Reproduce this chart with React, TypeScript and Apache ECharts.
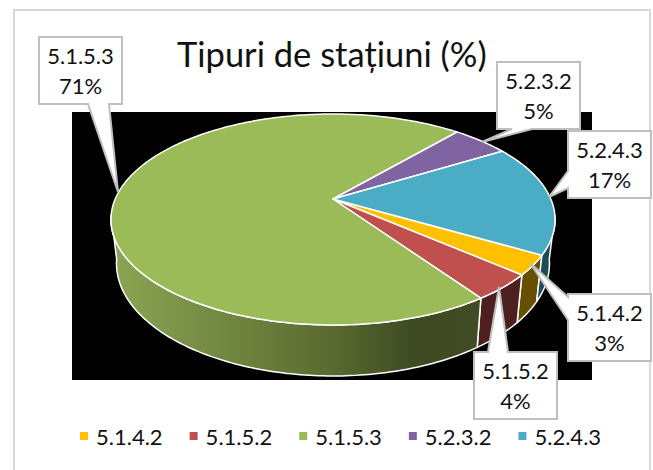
import React, { useEffect, useRef } from "react";
import * as echarts from "echarts";

const categories = ["5.1.4.2", "5.1.5.2", "5.1.5.3", "5.2.3.2", "5.2.4.3"];
const shares = [3, 4, 71, 5, 17];
const topColors = ["#FFC000", "#C0504D", "#9BBB59", "#8064A2", "#4BACC6"];
const wallColors: any[] = [
  "#665000",
  "#4D1F1E",
  new echarts.graphic.LinearGradient(0, 0, 1, 0, [
    { offset: 0, color: "#8BA653" },
    { offset: 0.6, color: "#5A6A30" },
    { offset: 0.82, color: "#3F4A22" },
    { offset: 1, color: "#414B24" },
  ]),
  "#33284A",
  "#1F4A56",
];
const titleText = "Tipuri de stațiuni (%)";

// layout of the tilted pie
const START = 120;
const APEX = { x: 333, y: 199 };
const K = -0.1943;
const AX = 217.8;
const AY = 101.5;
const WALL_FROM = 99;
const WALL_TO = 261;
const FONT = "Lato";

// callout layout, in category order: box, pointer tip, pointer base and the side it leaves from
const callouts = [
  { box: [568, 294, 651, 361], tip: [530, 263], base: [[568, 297], [568, 320]], side: "left" },
  { box: [474, 352, 557, 419], tip: [499, 287], base: [[488, 352], [508, 352]], side: "top" },
  { box: [39, 37, 122, 104], tip: [118, 192], base: [[88, 104], [109, 104]], side: "bottom" },
  { box: [497, 62, 580, 129], tip: [482, 142], base: [[512, 129], [532, 129]], side: "bottom" },
  { box: [568, 131, 651, 198], tip: [549, 197], base: [[568, 171], [568, 188]], side: "left" },
];

function rimTop(deg: number): number[] {
  const r = (deg * Math.PI) / 180;
  const u = Math.sin(r);
  const v = -Math.cos(r);
  const w = 1 + K * v;
  return [APEX.x + (AX * u) / w, APEX.y + (AY * v) / w];
}
function rimBottom(deg: number): number[] {
  const p = rimTop(deg);
  return [332 + (p[0] - 332) * 0.975, 263 + (p[1] - 219) * 1.066];
}
function sweep(from: number, to: number, f: (d: number) => number[]) {
  const pts: number[][] = [];
  const n = Math.max(2, Math.ceil(to - from));
  for (let i = 0; i <= n; i++) pts.push(f(from + ((to - from) * i) / n));
  return pts;
}

const total = shares.reduce((a, b) => a + b, 0);

function sliceRenderer(index: number) {
  return (_params: any, api: any) => {
    const before = shares.slice(0, index).reduce((a, b) => a + b, 0);
    let a0 = START + (before / total) * 360;
    if (a0 >= 360) a0 -= 360;
    const a1 = a0 + (api.value(0) / total) * 360;
    const children: any[] = [];
    const w0 = Math.max(a0, WALL_FROM);
    const w1 = Math.min(a1, WALL_TO);
    if (w1 > w0) {
      children.push({
        type: "polygon",
        shape: { points: [...sweep(w0, w1, rimTop), ...sweep(w0, w1, rimBottom).reverse()] },
        style: { fill: wallColors[index], stroke: "#FFFFFF", lineWidth: 1.5, lineJoin: "round" },
      });
    }
    children.push({
      type: "polygon",
      shape: { points: [[APEX.x, APEX.y], ...sweep(a0, a1, rimTop)] },
      style: { fill: topColors[index], stroke: "#FFFFFF", lineWidth: 1.5, lineJoin: "round" },
    });
    return { type: "group", children };
  };
}

function calloutGraphics() {
  const out: any[] = [];
  callouts.forEach((c, i) => {
    const [x0, y0, x1, y1] = c.box;
    const [b0, b1] = c.base;
    let points: number[][];
    if (c.side === "left") {
      points = [[x0, y0], [x1, y0], [x1, y1], [x0, y1], b1, c.tip, b0];
    } else if (c.side === "top") {
      points = [[x0, y0], b0, c.tip, b1, [x1, y0], [x1, y1], [x0, y1]];
    } else {
      points = [[x0, y0], [x1, y0], [x1, y1], b1, c.tip, b0, [x0, y1]];
    }
    out.push({
      type: "polygon",
      z: 20,
      shape: { points },
      style: { fill: "#FFFFFF", stroke: "#BFBFBF", lineWidth: 2 },
    });
    out.push({
      type: "text",
      z: 21,
      x: (x0 + x1) / 2,
      y: (y0 + y1) / 2,
      style: {
        text: `${categories[i]}\n${shares[i]}%`,
        font: `22px ${FONT}`,
        lineHeight: 30,
        fill: "#111111",
        align: "center",
        verticalAlign: "middle",
      },
    });
  });
  return out;
}

export default function App() {
  const ref = useRef<HTMLDivElement>(null);
  useEffect(() => {
    const chart = echarts.init(ref.current!, undefined, { renderer: "svg" });
    chart.setOption({
      animation: false,
      backgroundColor: "#FFFFFF",
      title: {
        text: titleText,
        left: 177,
        top: 36,
        padding: 0,
        textStyle: { fontFamily: FONT, fontSize: 34.5, fontWeight: "normal", color: "#111111" },
      },
      legend: {
        data: categories,
        left: 80,
        top: 425,
        padding: 0,
        icon: "rect",
        itemWidth: 8,
        itemHeight: 8,
        itemGap: 27,
        selectedMode: false,
        textStyle: { fontFamily: FONT, fontSize: 22, color: "#111111", padding: [0, 0, 0, 3] },
      },
      graphic: [
        {
          type: "rect",
          z: -10,
          shape: { x: 14, y: 10, width: 636, height: 470 },
          style: { fill: "#FFFFFF", stroke: "#D9D9D9", lineWidth: 2 },
        },
        {
          type: "rect",
          z: -9,
          shape: { x: 72, y: 112, width: 520, height: 268 },
          style: { fill: "#000000" },
        },
        ...calloutGraphics(),
      ],
      series: categories.map((name, i) => ({
        type: "custom",
        name,
        coordinateSystem: "none",
        silent: true,
        z: 5,
        itemStyle: { color: topColors[i] },
        data: [[shares[i]]],
        renderItem: sliceRenderer(i),
      })),
    });
    return () => chart.dispose();
  }, []);
  return <div ref={ref} style={{ position: "absolute", left: 0, top: 0, width: 653, height: 470 }} />;
}
